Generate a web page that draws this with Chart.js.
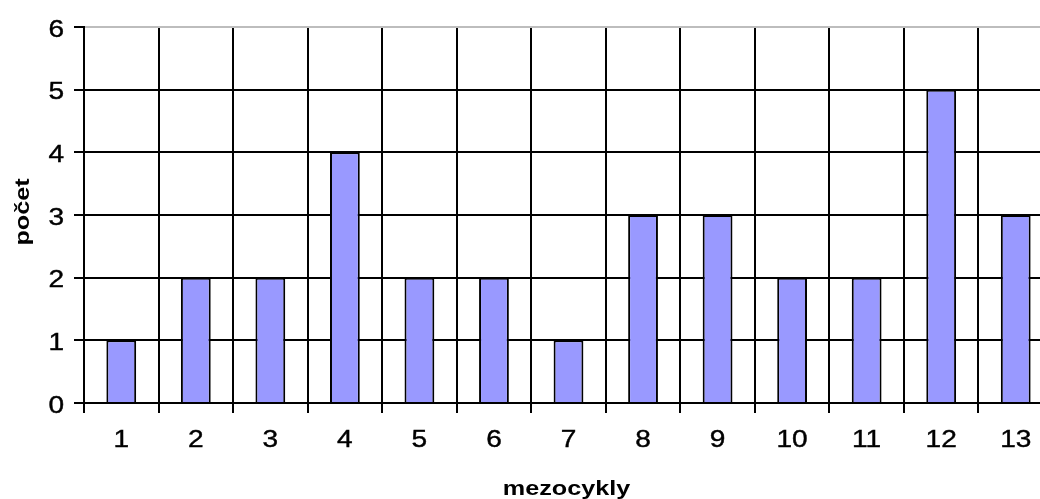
<!DOCTYPE html>
<html>
<head>
<meta charset="utf-8">
<script src="https://cdn.jsdelivr.net/npm/chart.js@4/dist/chart.umd.min.js"></script>
<style>
  html, body { margin: 0; padding: 0; background: #fff; overflow: hidden; }
  #wrap { width: 1062px; height: 499px; position: relative; }
</style>
</head>
<body>
<div id="wrap"><canvas id="c"></canvas></div>
<script>
const categories = ['1', '2', '3', '4', '5', '6', '7', '8', '9', '10', '11', '12', '13'];
const counts = [1, 2, 2, 4, 2, 2, 1, 3, 3, 2, 2, 5, 3];
const yTicks = [0, 1, 2, 3, 4, 5, 6];
const xTitle = 'mezocykly';
const yTitle = 'počet';

const FONT = '"Liberation Sans", Arial, sans-serif';
const TICK_FONT = '23px ' + FONT;
const TITLE_FONT = 'bold 21px ' + FONT;
const TICK_SX = 1.22;  // horizontal widening of tick glyphs
const TITLE_SX = 1.2;  // horizontal widening of axis-title glyphs

// Draw text widened along its own direction, with a hairline stroke for weight.
function drawWide(ctx, text, x, y, sx, angle, stroke) {
  ctx.save();
  ctx.translate(x, y);
  if (angle) ctx.rotate(angle);
  ctx.scale(sx, 1);
  ctx.fillText(text, 0, 0);
  if (stroke) {
    ctx.lineWidth = stroke;
    ctx.strokeText(text, 0, 0);
  }
  ctx.restore();
}

// Tick labels and axis titles, positioned from the chart's own scales.
const wideLabels = {
  id: 'wideLabels',
  afterDraw(chart) {
    const ctx = chart.ctx;
    const xs = chart.scales.x;
    const ys = chart.scales.y;
    const area = chart.chartArea;
    ctx.save();
    ctx.fillStyle = '#000000';
    ctx.strokeStyle = '#000000';
    ctx.textBaseline = 'alphabetic';

    ctx.font = TICK_FONT;
    ctx.textAlign = 'center';
    xs.ticks.forEach((t, i) => {
      drawWide(ctx, xs.getLabelForValue(t.value), xs.getPixelForTick(i), area.bottom + 44, TICK_SX, 0, 0.4);
    });

    ctx.textAlign = 'right';
    ys.ticks.forEach((t) => {
      drawWide(ctx, String(t.value), ys.right - 20, ys.getPixelForValue(t.value) + 9.5, TICK_SX, 0, 0.4);
    });

    ctx.font = TITLE_FONT;
    ctx.textAlign = 'center';
    drawWide(ctx, xTitle, (area.left + area.right) / 2 - 2, 495, TITLE_SX);
    drawWide(ctx, yTitle, 29, (area.top + area.bottom) / 2 - 3, TITLE_SX, -Math.PI / 2);
    ctx.restore();
  }
};

new Chart(document.getElementById('c'), {
  type: 'bar',
  data: {
    labels: categories,
    datasets: [{
      data: counts,
      backgroundColor: '#9999ff',
      borderColor: '#000000',
      borderWidth: 2,
      barPercentage: 0.4,
      categoryPercentage: 1.0
    }]
  },
  options: {
    responsive: true,
    maintainAspectRatio: false,
    animation: false,
    devicePixelRatio: 1,
    layout: { padding: { top: 27, right: 9, left: 0, bottom: 0 } },
    plugins: { legend: { display: false }, tooltip: { enabled: false } },
    scales: {
      x: {
        offset: true,
        grid: {
          offset: true,
          color: '#000000',
          lineWidth: 2,
          tickLength: 10
        },
        border: { color: '#000000', width: 2 },
        ticks: { display: false, autoSkip: false, maxRotation: 0 },
        title: { display: false },
        afterFit: (s) => { s.height = 96; }
      },
      y: {
        min: 0,
        max: 6,
        afterBuildTicks: (s) => { s.ticks = yTicks.map(v => ({ value: v })); },
        grid: {
          color: (ctx) => ctx.tick && ctx.tick.value === 6 ? '#bdbdbd' : '#000000',
          lineWidth: 2,
          tickColor: '#000000',
          tickLength: 10
        },
        border: { color: '#000000', width: 2 },
        ticks: { display: false },
        title: { display: false },
        afterFit: (s) => { s.width = 84; }
      }
    }
  },
  plugins: [wideLabels]
});
</script>
</body>
</html>
